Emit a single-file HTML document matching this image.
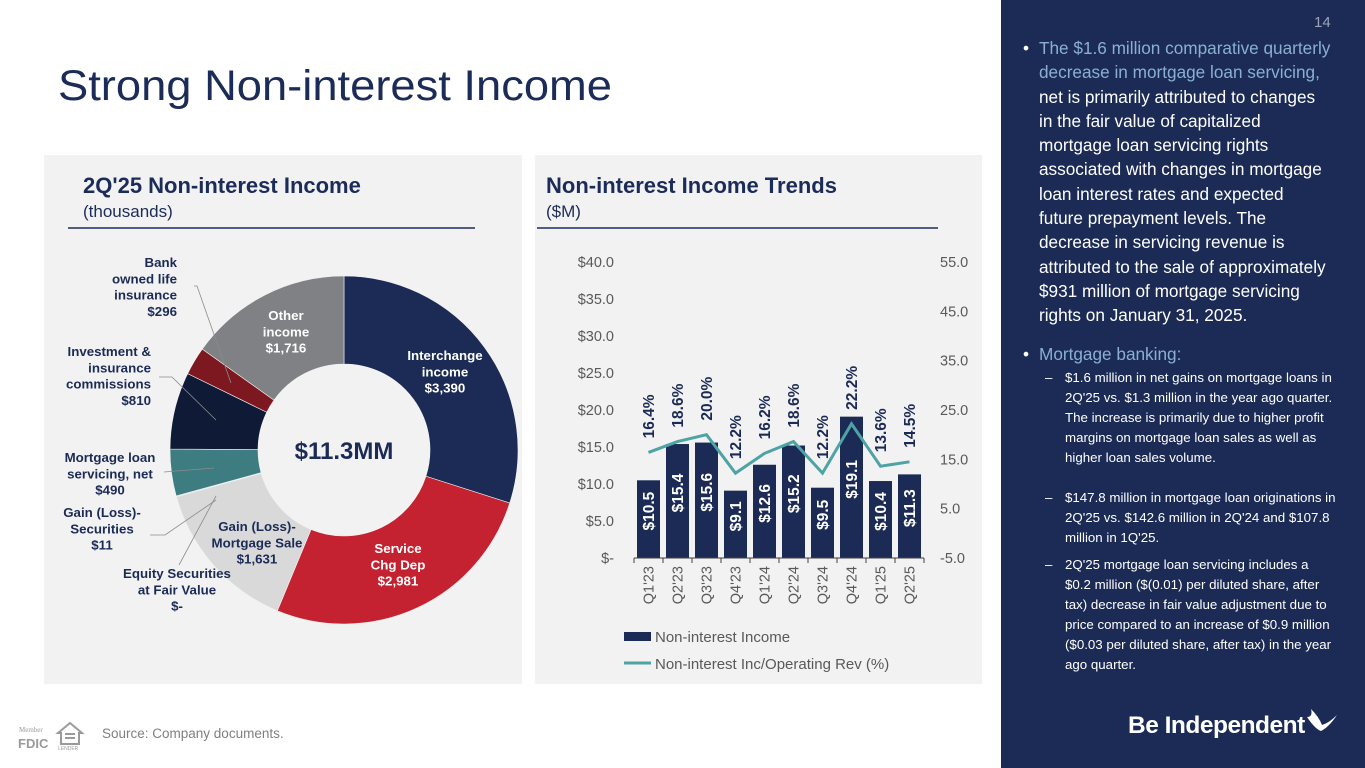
<!DOCTYPE html>
<html><head><meta charset="utf-8"><style>
body{margin:0;width:1365px;height:768px;overflow:hidden;background:#fff;font-family:"Liberation Sans",Arial,sans-serif;position:relative}
.abs{position:absolute}
#side{left:1001px;top:0;width:364px;height:768px;background:#1b2b55}
.b1{font-size:17.2px;line-height:24.3px;color:#fff}
.b2{font-size:13.3px;line-height:20px;color:#fff}
</style></head><body>
<svg class="abs" style="left:0;top:0" width="1000" height="768">
  <text x="58" y="100" font-size="43" fill="#1c2c58" textLength="554" lengthAdjust="spacingAndGlyphs">Strong Non-interest Income</text>
  <rect x="44" y="155" width="478" height="529" fill="#f2f2f2"/>
  <rect x="535" y="155" width="447" height="529" fill="#f2f2f2"/>
  <text x="83" y="193" font-size="22" font-weight="bold" fill="#1c2c58">2Q'25 Non-interest Income</text>
  <text x="83" y="217" font-size="17" fill="#1c2c58">(thousands)</text>
  <line x1="68" y1="228" x2="475" y2="228" stroke="#1c2c58" stroke-width="1.5"/>
  <text x="546" y="193" font-size="22" font-weight="bold" fill="#1c2c58">Non-interest Income Trends</text>
  <text x="546" y="217" font-size="17" fill="#1c2c58">($M)</text>
  <line x1="537" y1="228" x2="938" y2="228" stroke="#1c2c58" stroke-width="1.5"/>
  <g id="donut"></g>
  <g id="bars"></g>
  <text x="102" y="738" font-size="13.5" fill="#7f7f7f">Source: Company documents.</text>
  <g fill="#9a9a9a">
    <text x="19" y="732" font-size="7" font-family="Liberation Serif">Member</text>
    <text x="18" y="748" font-size="13" font-weight="bold">FDIC</text>
    <path d="M58 733 L70 723 L82 733 L79 733 L79 744 L61 744 L61 733Z" fill="none" stroke="#9a9a9a" stroke-width="2"/>
    <rect x="65" y="733" width="10" height="2"/><rect x="65" y="737" width="10" height="2"/>
    <text x="58" y="750" font-size="5">LENDER</text>
  </g>
</svg>
<div id="side" class="abs">
  <div class="abs" style="left:313px;top:14px;font-size:15px;color:#9aa3b8">14</div>
  <div class="abs b1" style="left:22px;top:36px;width:340px">
    <span class="abs" style="left:0;top:0">•</span>
    <div style="margin-left:16px;white-space:nowrap"><span style="color:#8ab0d0">The $1.6 million comparative quarterly<br>decrease in mortgage loan servicing,</span><br>net is primarily attributed to changes<br>in the fair value of capitalized<br>mortgage loan servicing rights<br>associated with changes in mortgage<br>loan interest rates and expected<br>future prepayment levels. The<br>decrease in servicing revenue is<br>attributed to the sale of approximately<br>$931 million of mortgage servicing<br>rights on January 31, 2025.</div>
  </div>
  <div class="abs b1" style="left:22px;top:342px;color:#8ab0d0"><span class="abs" style="left:0;color:#fff">•</span><span style="margin-left:16px">Mortgage banking:</span></div>
  <div class="abs b2" style="left:44px;top:368px;width:320px;white-space:nowrap"><span class="abs" style="left:0">–</span><div style="margin-left:20px">$1.6 million in net gains on mortgage loans in<br>2Q'25 vs. $1.3 million in the year ago quarter.<br>The increase is primarily due to higher profit<br>margins on mortgage loan sales as well as<br>higher loan sales volume.</div></div>
  <div class="abs b2" style="left:44px;top:488px;width:320px;white-space:nowrap"><span class="abs" style="left:0">–</span><div style="margin-left:20px">$147.8 million in mortgage loan originations in<br>2Q'25 vs. $142.6 million in 2Q'24 and $107.8<br>million in 1Q'25.</div></div>
  <div class="abs b2" style="left:44px;top:555px;width:320px;white-space:nowrap"><span class="abs" style="left:0">–</span><div style="margin-left:20px">2Q'25 mortgage loan servicing includes a<br>$0.2 million ($(0.01) per diluted share, after<br>tax) decrease in fair value adjustment due to<br>price compared to an increase of $0.9 million<br>($0.03 per diluted share, after tax) in the year<br>ago quarter.</div></div>
  <div class="abs" style="left:127px;top:712px;font-size:24.5px;font-weight:bold;color:#fff;letter-spacing:-0.5px">Be Independent</div>
  <svg class="abs" style="left:304px;top:707px" width="34" height="30"><path d="M2 10 Q10 22 16 24 Q24 20 32 8 Q24 16 17 18 Q14 10 6 2 Q8 10 2 10Z" fill="#fff"/></svg>
</div>
<script>
const sliceNames=["Interchange income","Service Chg Dep","Gain (Loss)- Mortgage Sale","Equity Securities at Fair Value","Gain (Loss)- Securities","Mortgage loan servicing, net","Investment & insurance commissions","Bank owned life insurance","Other income"];
const sliceValues=[3390,2981,1631,0,11,490,810,296,1716];
const sliceColors=["#1b2b55","#c42230","#d9d9d9","#bfbfbf","#cfe3e3","#3d7c80","#0f1b36","#7d1820","#7f8184"];
const categories=["Q1'23","Q2'23","Q3'23","Q4'23","Q1'24","Q2'24","Q3'24","Q4'24","Q1'25","Q2'25"];
const incomeValues=[10.5,15.4,15.6,9.1,12.6,15.2,9.5,19.1,10.4,11.3];
const ratioValues=[16.4,18.6,20.0,12.2,16.2,18.6,12.2,22.2,13.6,14.5];
const leftTicks=[0,5,10,15,20,25,30,35,40];
const rightTicks=[-5,5,15,25,35,45,55];
const NS="http://www.w3.org/2000/svg";
function mk(tag,attrs,parent){const e=document.createElementNS(NS,tag);for(const k in attrs)e.setAttribute(k,attrs[k]);parent.appendChild(e);return e;}
// donut
const dg=document.getElementById('donut');
const cx=344,cy=450,R=174,r=86;
const total=sliceValues.reduce((a,b)=>a+b,0);
let ang=0;
sliceValues.forEach((v,i)=>{
  const a0=ang, a1=ang+v/total*2*Math.PI; ang=a1;
  if(v<=0) return;
  const p=(rad,a)=>[cx+rad*Math.sin(a),cy-rad*Math.cos(a)];
  const large=(a1-a0)>Math.PI?1:0;
  const [x0,y0]=p(R,a0),[x1,y1]=p(R,a1),[x2,y2]=p(r,a1),[x3,y3]=p(r,a0);
  const path=mk('path',{d:`M${x0} ${y0} A${R} ${R} 0 ${large} 1 ${x1} ${y1} L${x2} ${y2} A${r} ${r} 0 ${large} 0 ${x3} ${y3}Z`,fill:sliceColors[i],stroke:"#f2f2f2","stroke-width":0.6},dg);
  
  
});
const circ=mk('circle',{cx:cx,cy:cy,r:r,fill:"#f2f2f2"},dg);
const ct=mk('text',{x:cx,y:cy+9,"font-size":24,"font-weight":"bold",fill:"#1b2b55","text-anchor":"middle"},dg);
ct.textContent="$11.3MM";


const labels=[
 {x:445,y:360,a:"middle",c:"#fff",t:["Interchange","income","$3,390"]},
 {x:398,y:553,a:"middle",c:"#fff",t:["Service","Chg Dep","$2,981"]},
 {x:257,y:531,a:"middle",c:"#1b2b55",t:["Gain (Loss)-","Mortgage Sale","$1,631"]},
 {x:177,y:578,a:"middle",c:"#1b2b55",t:["Equity Securities","at Fair Value","$-"]},
 {x:102,y:517,a:"middle",c:"#1b2b55",t:["Gain (Loss)-","Securities","$11"]},
 {x:110,y:462,a:"middle",c:"#1b2b55",t:["Mortgage loan","servicing, net","$490"]},
 {x:151,y:356,a:"end",c:"#1b2b55",t:["Investment &","insurance","commissions","$810"]},
 {x:177,y:267,a:"end",c:"#1b2b55",t:["Bank","owned life","insurance","$296"]},
 {x:286,y:320,a:"middle",c:"#fff",t:["Other","income","$1,716"]}
];
labels.forEach((L,i)=>{
  const t=mk('text',{x:L.x,y:L.y,"font-size":13.3,"font-weight":"bold",fill:L.c,"text-anchor":L.a},dg);
  
  
  L.t.forEach((s,j)=>{const ts=mk('tspan',{x:L.x,dy:j?16.3:0},t);ts.textContent=s;});
});
[["M194 286 L197 286 L231 383"],["M159 377 L172 377 L216 420"],["M164 472 L214 468"],["M150 535 L165 535 L216 500"],["M179 565 L216 496"]].forEach(d=>mk('path',{d:d[0],fill:"none",stroke:"#8c8c8c","stroke-width":0.8},dg));
// bar chart
const bg=document.getElementById('bars');
const y0=558,yTop=262,x0=634,x1=924;
const yL=v=>y0-(v-0)/(40-0)*(y0-yTop);
const yR=v=>y0-(v+5)/(55+5)*(y0-yTop);
const band=(x1-x0)/categories.length;
const xc=i=>x0+band*(i+0.5);
leftTicks.forEach(v=>{const t=mk('text',{x:614,y:yL(v)+5,"font-size":14.5,fill:"#595959","text-anchor":"end"},bg);t.textContent=v===0?"$-":"$"+v.toFixed(1);
 });
rightTicks.forEach(v=>{const t=mk('text',{x:940,y:yR(v)+5,"font-size":14.5,fill:"#595959"},bg);t.textContent=v.toFixed(1);
 });
incomeValues.forEach((v,i)=>{
  const b=mk('rect',{x:xc(i)-11.5,y:yL(v),width:23,height:y0-yL(v),fill:"#1b2b55"},bg);
  
  
  const ly=(yL(v)+y0)/2-8;
  const t=mk('text',{x:0,y:0,"font-size":15.5,"font-weight":"bold",fill:"#fff","text-anchor":"middle",transform:`translate(${xc(i)+5.5},${ly}) rotate(-90)`},bg);
  t.textContent="$"+v.toFixed(1);
  
  
});
mk('line',{x1:x0,y1:y0,x2:x1,y2:y0,stroke:"#404040","stroke-width":1},bg);
for(let i=0;i<=categories.length;i++)mk('line',{x1:x0+band*i,y1:y0,x2:x0+band*i,y2:y0+5,stroke:"#404040","stroke-width":1},bg);
const pts=ratioValues.map((v,i)=>xc(i)+","+yR(v)).join(" ");
const pl=mk('polyline',{points:pts,fill:"none",stroke:"#4ea3a5","stroke-width":3},bg);


ratioValues.forEach((v,i)=>{
  const t=mk('text',{x:0,y:0,"font-size":15.5,"font-weight":"bold",fill:"#1b2b55",transform:`translate(${xc(i)+5.5},${yR(v)-14}) rotate(-90)`},bg);
  t.textContent=v.toFixed(1)+"%";
  
  
});
categories.forEach((c,i)=>{
  const t=mk('text',{x:0,y:0,"font-size":14.5,fill:"#595959","text-anchor":"end",transform:`translate(${xc(i)+5},${566}) rotate(-90)`},bg);
  t.textContent=c;
  
  
});
const lg1=mk('rect',{x:624,y:632,width:27,height:9,fill:"#1b2b55"},bg);

const lt1=mk('text',{x:655,y:642,"font-size":15,fill:"#595959"},bg);lt1.textContent="Non-interest Income";

mk('line',{x1:624,y1:663,x2:651,y2:663,stroke:"#4ea3a5","stroke-width":3},bg);
const lt2=mk('text',{x:655,y:669,"font-size":15,fill:"#595959"},bg);lt2.textContent="Non-interest Inc/Operating Rev (%)";

</script>
</body></html>
